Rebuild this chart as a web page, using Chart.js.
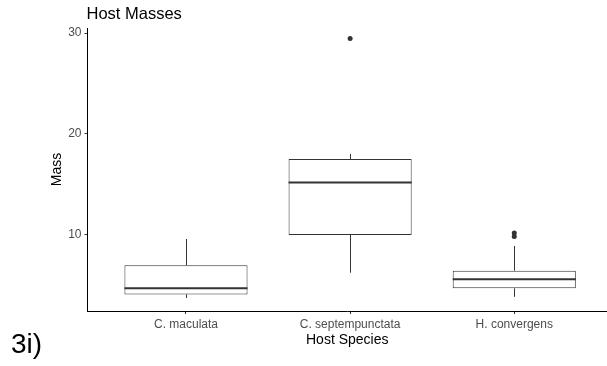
<!DOCTYPE html>
<html>
<head>
<meta charset="utf-8">
<script src="https://cdn.jsdelivr.net/npm/chart.js@4"></script>
<style>
  html, body { margin: 0; padding: 0; background: #fff; }
  #wrap { position: relative; width: 607px; height: 366px; }
  #tag { position: absolute; left: 11px; top: 328px; font: 28px 'Liberation Sans', Arial, sans-serif; color: #000; line-height: normal; }
</style>
</head>
<body>
<div id="wrap">
  <canvas id="c" width="607" height="366"></canvas>
  <span id="tag">3i)</span>
</div>
<script>
// Host species and their mass summaries (five-number boxplot stats)
const categories   = ['C. maculata', 'C. septempunctata', 'H. convergens'];
const positions    = [1, 2, 3];
const lowerWhisker = [3.7, 6.2, 3.8];
const q1           = [4.05, 9.95, 4.65];
const median       = [4.65, 15.15, 5.55];
const q3           = [6.95, 17.5, 6.4];
const upperWhisker = [9.55, 18.0, 8.85];
const outliers     = [[], [29.45], [10.15, 9.8]];
const yTicks       = [10, 20, 30];

const FONT = "'Liberation Sans', Arial, sans-serif";
const INK = '#333333';
const TICK_TEXT = '#4d4d4d';

// Whiskers, medians and the plot title
const boxDecor = {
  id: 'boxDecor',
  afterDatasetsDraw(chart) {
    const { ctx, scales: { x, y } } = chart;
    const boxes = chart.getDatasetMeta(0).data;
    ctx.save();
    ctx.strokeStyle = INK;
    categories.forEach((c, i) => {
      const cx = Math.round(x.getPixelForValue(positions[i])) + 0.5;
      ctx.lineWidth = 1;
      ctx.beginPath();
      ctx.moveTo(cx, y.getPixelForValue(q3[i]));
      ctx.lineTo(cx, y.getPixelForValue(upperWhisker[i]));
      ctx.moveTo(cx, y.getPixelForValue(q1[i]));
      ctx.lineTo(cx, y.getPixelForValue(lowerWhisker[i]));
      ctx.stroke();
      const half = boxes[i].width / 2;
      const my = y.getPixelForValue(median[i]);
      ctx.lineWidth = 2;
      ctx.beginPath();
      ctx.moveTo(boxes[i].x - half, my);
      ctx.lineTo(boxes[i].x + half, my);
      ctx.stroke();
    });
    ctx.fillStyle = '#000';
    ctx.font = '16.5px ' + FONT;
    ctx.textAlign = 'left';
    ctx.textBaseline = 'alphabetic';
    ctx.fillText('Host Masses', chart.chartArea.left - 1, 18.5);
    ctx.restore();
  }
};

const outlierPoints = [];
outliers.forEach((list, i) => list.forEach(v => outlierPoints.push({ x: positions[i], y: v })));

new Chart(document.getElementById('c'), {
  type: 'bar',
  data: {
    datasets: [
      {
        label: 'Mass',
        data: categories.map((c, i) => ({ x: positions[i], y: [q1[i], q3[i]] })),
        backgroundColor: '#ffffff',
        borderColor: INK,
        borderWidth: 1,
        borderSkipped: false,
        barPercentage: 0.75,
        categoryPercentage: 1
      },
      {
        type: 'scatter',
        label: 'Outliers',
        data: outlierPoints,
        pointRadius: 2.5,
        pointBackgroundColor: INK,
        pointBorderWidth: 0,
        showLine: false
      }
    ]
  },
  options: {
    responsive: false,
    animation: false,
    events: [],
    layout: { autoPadding: false, padding: { left: 44, top: 28, right: 0, bottom: 13 } },
    plugins: { legend: { display: false }, tooltip: { enabled: false }, title: { display: false } },
    scales: {
      x: {
        type: 'linear',
        min: 0.4,
        max: 3.565,
        offset: false,
        afterBuildTicks: s => { s.ticks = positions.map(v => ({ value: v })); },
        afterFit: s => { s.height = 42; },
        ticks: {
          callback: (v, i) => categories[i],
          color: TICK_TEXT,
          font: { family: FONT, size: 12 },
          padding: 3,
          autoSkip: false,
          maxRotation: 0
        },
        grid: { offset: false, drawOnChartArea: false, drawTicks: true, tickLength: 3, color: INK },
        border: { display: true, color: '#000', width: 1 },
        title: { display: true, text: 'Host Species', color: '#000', font: { family: FONT, size: 14 }, padding: { top: 2, bottom: 4.6 } }
      },
      y: {
        min: 2.4,
        max: 30.5,
        afterBuildTicks: s => { s.ticks = yTicks.map(v => ({ value: v })); },
        afterFit: s => { s.width = 43.5; },
        ticks: { color: TICK_TEXT, font: { family: FONT, size: 12 }, padding: 3 },
        grid: { drawOnChartArea: false, drawTicks: true, tickLength: 3, color: INK },
        border: { display: true, color: '#000', width: 1 },
        title: { display: true, text: 'Mass', color: '#000', font: { family: FONT, size: 14 }, padding: { top: 5, bottom: 4 } }
      }
    }
  },
  plugins: [boxDecor]
});
</script>
</body>
</html>
